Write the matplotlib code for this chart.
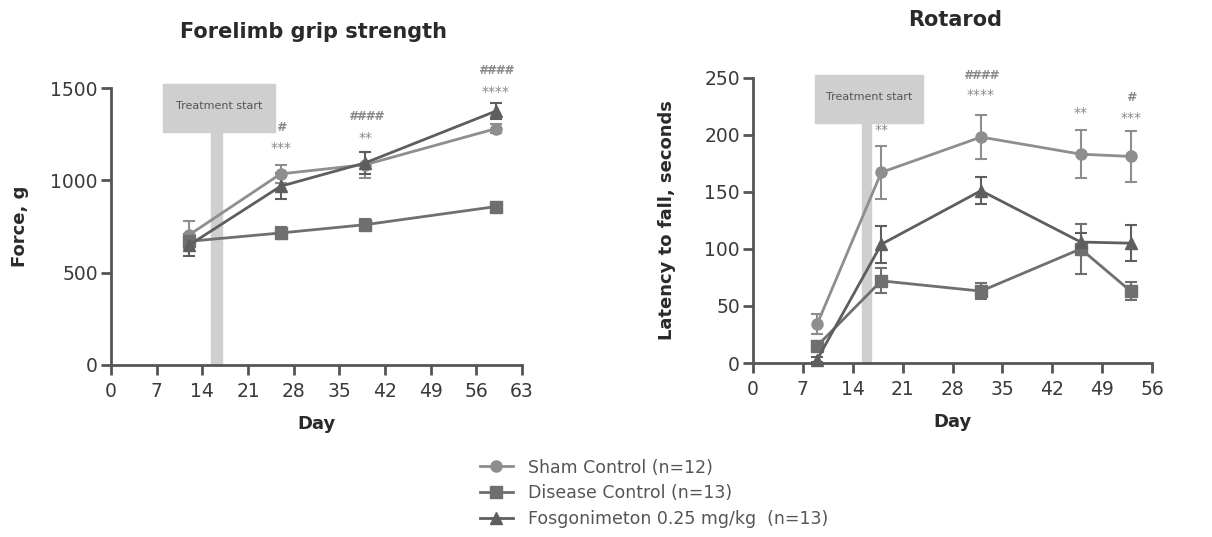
import numpy as np
import matplotlib.pyplot as plt
from matplotlib.patches import Rectangle

plt.rcParams['font.family'] = ['DejaVu Sans']

# Forelimb grip strength data
grip_days = [12, 26, 39, 59]
grip_sham = [705, 1035, 1085, 1280]
grip_sham_err = [75, 50, 70, 25]
grip_disease = [670, 715, 760, 858]
grip_disease_err = [25, 30, 30, 15]
grip_fosgo = [650, 968, 1095, 1375]
grip_fosgo_err = [60, 70, 60, 45]
grip_stars = ['', '***', '**', '****']
grip_hash = ['', '#', '####', '####']

# Rotarod data
rot_days = [9, 18, 32, 46, 53]
rot_sham = [34, 167, 198, 183, 181]
rot_sham_err = [9, 23, 19, 21, 22]
rot_disease = [15, 72, 63, 100, 63]
rot_disease_err = [4, 11, 7, 22, 8]
rot_fosgo = [3, 104, 151, 106, 105]
rot_fosgo_err = [2, 16, 12, 8, 16]
rot_stars = ['', '**', '****', '**', '***']
rot_hash = ['', '', '####', '', '#']

labels = ['Sham Control (n=12)', 'Disease Control (n=13)', 'Fosgonimeton 0.25 mg/kg  (n=13)']
colors = ['#8e8e8e', '#6f6f6f', '#5e5e5e']
markers = ['o', 's', '^']
axis_col = '#555555'
annot_col = '#8a8a8a'

fig = plt.figure(figsize=(12.12, 5.37), dpi=100)
ax1 = fig.add_axes([0.0916, 0.3203, 0.3391, 0.5158])
ax2 = fig.add_axes([0.6213, 0.3240, 0.3292, 0.5313])


def style(ax, xmax, ymax, ystep, ylabel, ylpad):
    ax.set_xlim(0, xmax)
    ax.set_ylim(0, ymax)
    ax.set_xticks(np.arange(0, xmax + 1, 7))
    ax.set_yticks(np.arange(0, ymax + 1, ystep))
    for s in ['top', 'right']:
        ax.spines[s].set_visible(False)
    for s in ['left', 'bottom']:
        ax.spines[s].set_color(axis_col)
        ax.spines[s].set_linewidth(2)
    ax.tick_params(colors=axis_col, width=2, length=7, labelsize=13.5, labelcolor='#3a3a3a')
    ax.tick_params(axis='x', pad=5.5)
    ax.tick_params(axis='y', pad=2.5)
    ax.set_xlabel('Day', fontsize=13, fontweight='bold', color='#2a2a2a', labelpad=10)
    ax.set_ylabel(ylabel, fontsize=13, fontweight='bold', color='#2a2a2a', labelpad=ylpad)


def treatment(ax, x0, x1, y0, y1, bx0, bx1):
    ax.add_patch(Rectangle((bx0, 0), bx1 - bx0, y0, color='#cfcfcf', zorder=1, clip_on=False))
    ax.add_patch(Rectangle((x0, y0), x1 - x0, y1 - y0, color='#cfcfcf', zorder=1, clip_on=False))
    ax.text((x0 + x1) / 2, (y0 + y1) / 2 + (y1 - y0) * 0.05, 'Treatment start', ha='center', va='center',
            fontsize=8, color='#555555', zorder=2)


def series(ax, days, vals, errs):
    handles = []
    for v, e, c, m in zip(vals, errs, colors, markers):
        ax.errorbar(days, v, yerr=e, color=c, lw=2, capsize=4, capthick=1.5, elinewidth=1.5,
                    marker=m, markersize=8, zorder=3, clip_on=False)
        h, = ax.plot([], [], color=c, lw=2, marker=m, markersize=8)
        handles.append(h)
    return handles


def annotate(ax, days, stars, hashes, star_y, hash_y):
    for d, s, h, sy, hy in zip(days, stars, hashes, star_y, hash_y):
        if s:
            ax.text(d, sy, s, ha='center', va='center', fontsize=10, color=annot_col, clip_on=False)
        if h:
            ax.text(d, hy, h, ha='center', va='center', fontsize=9, color=annot_col,
                    style='italic', fontweight='bold', clip_on=False)


style(ax1, 63, 1500, 500, 'Force, g', 15)
treatment(ax1, 8, 25.1, 1262, 1520, 15.4, 17.0)
handles = series(ax1, grip_days, [grip_sham, grip_disease, grip_fosgo],
                 [grip_sham_err, grip_disease_err, grip_fosgo_err])
annotate(ax1, grip_days, grip_stars, grip_hash,
         [0, 1175, 1230, 1480], [0, 1285, 1345, 1595])

style(ax2, 56, 250, 50, 'Latency to fall, seconds', 20)
treatment(ax2, 8.7, 23.9, 210, 252, 15.3, 16.6)
series(ax2, rot_days, [rot_sham, rot_disease, rot_fosgo],
       [rot_sham_err, rot_disease_err, rot_fosgo_err])
annotate(ax2, rot_days, rot_stars, rot_hash,
         [0, 204, 235, 219, 215], [0, 0, 252, 0, 233])

fig.text(313 / 1212, 1 - 32 / 537, 'Forelimb grip strength', ha='center', va='center',
         fontsize=15, fontweight='bold', color='#2a2a2a')
fig.text(955 / 1212, 1 - 20 / 537, 'Rotarod', ha='center', va='center',
         fontsize=15, fontweight='bold', color='#2a2a2a')

fig.legend(handles, labels, loc='upper left', bbox_to_anchor=(0.390, 0.159), frameon=False,
           fontsize=12.5, labelcolor='#555555', handlelength=1.9, labelspacing=0.45,
           borderaxespad=0, handletextpad=0.9)

fig.savefig('out.png', dpi=100)
